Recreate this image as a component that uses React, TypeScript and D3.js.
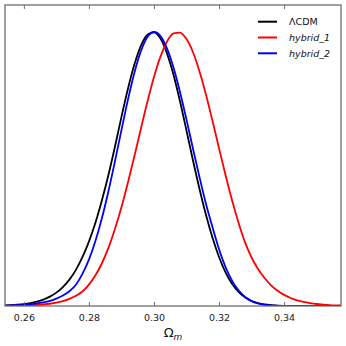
import { useEffect, useRef } from 'react';
import * as d3 from 'd3';

// Omega_m grid, step 0.002 from 0.254 to 0.358
const omegaM = d3.range(53).map(i => +(0.254 + i * 0.002).toFixed(3));

// normalised 1D posteriors at each grid point
const lcdm = [
  0.002, 0.003, 0.0047, 0.0071, 0.0107, 0.016, 0.0235, 0.0342, 0.0489, 0.0692,
  0.0963, 0.132, 0.178, 0.235, 0.304, 0.386, 0.478, 0.581, 0.690, 0.793,
  0.882, 0.950, 0.990, 0.999, 0.976, 0.922, 0.844, 0.747, 0.640, 0.531,
  0.427, 0.332, 0.249, 0.179, 0.123, 0.0816, 0.0518, 0.0316, 0.0184, 0.0103,
  0.0055, 0.0028, 0.0013, 0.0006, 0.0003, 0.0001, 0, 0, 0, 0,
  0, 0, 0,
];
const hybrid1 = [
  0.0004, 0.0007, 0.001, 0.0016, 0.0024, 0.0036, 0.0055, 0.0082, 0.0122, 0.0179,
  0.026, 0.0374, 0.053, 0.0782, 0.112, 0.156, 0.212, 0.281, 0.360, 0.451,
  0.548, 0.648, 0.746, 0.836, 0.910, 0.965, 0.995, 0.998, 0.974, 0.926,
  0.856, 0.771, 0.675, 0.576, 0.478, 0.386, 0.304, 0.232, 0.177, 0.135,
  0.102, 0.0756, 0.0556, 0.0405, 0.0292, 0.0209, 0.0148, 0.0105, 0.0073, 0.0051,
  0.0035, 0.0024, 0.0017,
];
const hybrid2 = [
  0.0015, 0.0021, 0.0031, 0.0044, 0.0064, 0.0092, 0.0132, 0.0188, 0.0269, 0.0381,
  0.0538, 0.0776, 0.117, 0.169, 0.237, 0.321, 0.419, 0.528, 0.642, 0.753,
  0.852, 0.931, 0.982, 1.000, 0.985, 0.940, 0.870, 0.781, 0.680, 0.574,
  0.470, 0.372, 0.287, 0.207, 0.142, 0.0925, 0.0569, 0.0329, 0.0179, 0.0091,
  0.0043, 0.0019, 0.0008, 0.0003, 0.0001, 0, 0, 0, 0, 0,
  0, 0, 0,
];
const seriesNames = ['ΛCDM', 'hybrid_1', 'hybrid_2'];
const seriesColors = ['#000000', '#ff0000', '#0000ff'];
const xTicks = [0.26, 0.28, 0.30, 0.32, 0.34];

const App = () => {
  const ref = useRef<SVGSVGElement>(null);

  useEffect(() => {
    const svg = d3.select(ref.current);
    svg.selectAll('*').remove();

    const left = 5, right = 341, top = 5, bottom = 306;

    const x = d3.scaleLinear().domain([0.2542, 0.3575]).range([left, right]);
    const y = d3.scaleLinear().domain([0, 1.0985]).range([bottom, top]);

    const line = d3.line<number>()
      .x((_, i) => x(omegaM[i]))
      .y(d => y(d))
      .curve(d3.curveMonotoneX);

    // clip to the axes box
    svg.append('clipPath').attr('id', 'plot-clip')
      .append('rect')
      .attr('x', left).attr('y', top)
      .attr('width', right - left).attr('height', bottom - top);

    const plot = svg.append('g').attr('clip-path', 'url(#plot-clip)');
    [lcdm, hybrid1, hybrid2].forEach((vals, k) => {
      plot.append('path')
        .datum(vals)
        .attr('fill', 'none')
        .attr('stroke', seriesColors[k])
        .attr('stroke-width', 1.8)
        .attr('d', line);
    });

    // frame
    svg.append('rect')
      .attr('x', left)
      .attr('y', top)
      .attr('width', right - left)
      .attr('height', bottom - top)
      .attr('fill', 'none')
      .attr('stroke', '#6e6e6e')
      .attr('stroke-width', 1.3);

    // ticks point inwards, top and bottom
    const bottomAxis = d3.axisBottom(x).tickValues(xTicks).tickSizeInner(-4).tickSizeOuter(0)
      .tickPadding(8).tickFormat(d3.format('.2f'));
    const gb = svg.append('g').attr('transform', `translate(0,${bottom})`).call(bottomAxis);
    gb.select('.domain').remove();
    gb.selectAll('line').attr('stroke', '#6e6e6e');
    gb.selectAll('text')
      .attr('font-family', 'DejaVu Sans')
      .attr('font-size', 9.5)
      .attr('fill', '#222');

    const topAxis = d3.axisTop(x).tickValues(xTicks).tickSizeInner(-4).tickSizeOuter(0).tickFormat(() => '');
    const gt = svg.append('g').attr('transform', `translate(0,${top})`).call(topAxis);
    gt.select('.domain').remove();
    gt.selectAll('line').attr('stroke', '#6e6e6e');

    // x label
    const xl = svg.append('text')
      .attr('x', 173)
      .attr('y', 337)
      .attr('text-anchor', 'middle')
      .attr('font-family', 'DejaVu Sans')
      .attr('font-size', 13)
      .attr('fill', '#111');
    xl.append('tspan').text('Ω');
    xl.append('tspan').attr('font-style', 'italic').attr('font-size', 9).attr('dy', 2.5).text('m');

    // legend
    const lg = svg.append('g');
    seriesNames.forEach((name, i) => {
      const ly = 21.7 + i * 15.8;
      lg.append('line')
        .attr('x1', 258).attr('x2', 277)
        .attr('y1', ly).attr('y2', ly)
        .attr('stroke', seriesColors[i])
        .attr('stroke-width', 2);
      lg.append('text')
        .attr('x', 289)
        .attr('y', ly + 3.5)
        .attr('font-family', 'DejaVu Sans')
        .attr('font-size', 9.5)
        .attr('font-style', i === 0 ? 'normal' : 'italic')
        .attr('fill', '#111')
        .text(name);
    });
  }, []);

  return (
    <svg ref={ref} width={346} height={346}
      style={{ position: 'absolute', left: 0, top: 0, background: '#fff' }} />
  );
};

export default App;
